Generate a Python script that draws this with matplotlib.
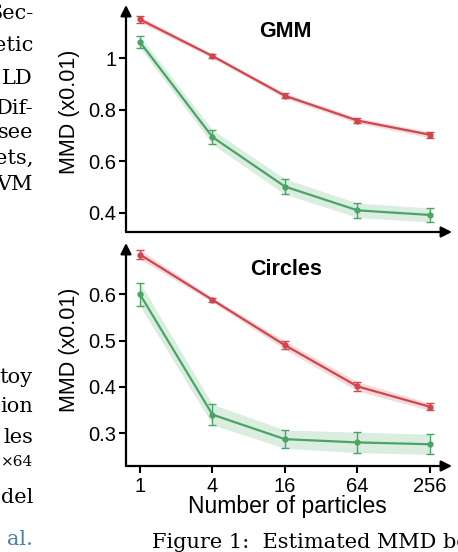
import matplotlib
matplotlib.use('Agg')
import matplotlib.pyplot as plt
import numpy as np

particles = [1, 4, 16, 64, 256]
tick_labels = ["1", "4", "16", "64", "256"]

gmm_red = [1.150, 1.008, 0.854, 0.758, 0.703]
gmm_red_err = [0.012, 0.008, 0.010, 0.010, 0.012]
gmm_green = [1.062, 0.694, 0.502, 0.410, 0.392]
gmm_green_err = [0.022, 0.028, 0.030, 0.028, 0.027]

circ_red = [0.686, 0.588, 0.490, 0.401, 0.357]
circ_red_err = [0.010, 0.005, 0.009, 0.010, 0.008]
circ_green = [0.600, 0.340, 0.287, 0.280, 0.276]
circ_green_err = [0.025, 0.022, 0.020, 0.022, 0.022]

left_words_top = ["Sec-", "etic", "LD", "Dif-", "see", "ets,", "VM"]
left_words_bottom = ["toy", "ion", "les", "×64", "del", "al."]

RED = "#d1464d"
GREEN = "#4aa564"

plt.rcParams['font.family'] = ['Liberation Sans', 'DejaVu Sans']

W, H = 458, 552
fig = plt.figure(figsize=(W / 100, H / 100), dpi=100)


def px_axes(x0, y_top, x1, y_bot):
    return fig.add_axes([x0 / W, 1 - y_bot / H, (x1 - x0) / W, (y_bot - y_top) / H])


def draw_panel(ax, red, red_err, green, green_err, ylim, yticks, title, show_x):
    x = np.array(particles, dtype=float)
    for vals, errs, col in [(red, red_err, RED), (green, green_err, GREEN)]:
        vals = np.array(vals)
        errs = np.array(errs)
        ax.fill_between(x, vals - errs, vals + errs, color=col, alpha=0.2, lw=0)
        ax.errorbar(x, vals, yerr=errs, color=col, lw=1.6, marker='o', ms=3.5,
                    capsize=3, elinewidth=1.0, capthick=1.0)
    ax.set_xscale('log', base=2)
    ax.set_xlim(2 ** -0.386, 2 ** 8.607)
    ax.set_ylim(*ylim)
    ax.set_yticks(yticks)
    ax.set_yticklabels([f"{t:g}" for t in yticks])
    ax.minorticks_off()
    for s in ax.spines.values():
        s.set_visible(False)
    ax.tick_params(axis='y', length=5, width=1.5, labelsize=14.5, pad=2)
    if show_x:
        ax.set_xticks(particles)
        ax.set_xticklabels(tick_labels)
        ax.tick_params(axis='x', length=5, width=1.5, labelsize=14.5, pad=3)
    else:
        ax.set_xticks([])
    arrow = dict(arrowstyle='-|>', color='k', lw=1.6, mutation_scale=16,
                 shrinkA=0, shrinkB=0)
    ax.annotate('', xy=(1, 0), xytext=(0, 0), xycoords='axes fraction', arrowprops=arrow)
    ax.annotate('', xy=(0, 1), xytext=(0, 0), xycoords='axes fraction', arrowprops=arrow)
    ax.text(0.49, 0.88 if show_x else 0.885, title, transform=ax.transAxes,
            ha='center', va='center', fontsize=15.5, fontweight='bold')


ax1 = px_axes(126, 5, 452, 232)
draw_panel(ax1, gmm_red, gmm_red_err, gmm_green, gmm_green_err,
           (0.326, 1.206), [0.4, 0.6, 0.8, 1.0], "GMM", False)

ax2 = px_axes(126, 243, 452, 466)
draw_panel(ax2, circ_red, circ_red_err, circ_green, circ_green_err,
           (0.229, 0.711), [0.3, 0.4, 0.5, 0.6], "Circles", True)

fig.text(70 / W, 1 - 112 / H, "MMD (x0.01)", rotation=90, ha='center', va='center', fontsize=15.5)
fig.text(70 / W, 1 - 350 / H, "MMD (x0.01)", rotation=90, ha='center', va='center', fontsize=15.5)
fig.text(287 / W, 1 - 506 / H, "Number of particles", ha='center', va='center', fontsize=16.5)

# surrounding page text
serif = ['DejaVu Serif']
fig.text(152 / W, 1 - 548 / H, "Figure 1:  Estimated MMD be-", family=serif,
         fontsize=15, ha='left', va='baseline')
top_y = [19, 51, 84, 114, 138, 164, 190]
for w, yb in zip(left_words_top, top_y):
    fig.text(33 / W, 1 - yb / H, w, family=serif, fontsize=15, ha='right', va='baseline')
bot_y = [383, 412, 443, 466, 503, 545]
for w, yb in zip(left_words_bottom, bot_y):
    fig.text(33 / W, 1 - yb / H, w, family=serif, fontsize=11 if w == "×64" else 15,
             ha='right', va='baseline', color='#4a7fb5' if w == "al." else 'k')

fig.savefig("out.png", dpi=100)
